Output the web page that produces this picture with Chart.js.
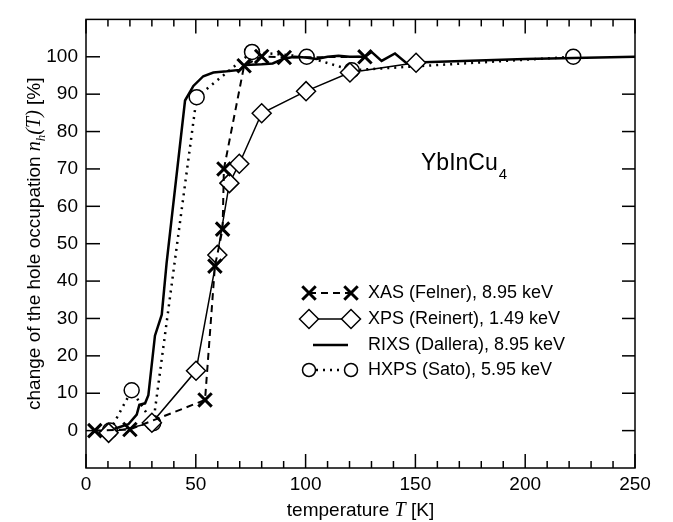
<!DOCTYPE html>
<html>
<head>
<meta charset="utf-8">
<script src="https://cdn.jsdelivr.net/npm/chart.js@4.4.1/dist/chart.umd.min.js"></script>
<style>
html, body { margin: 0; padding: 0; background: #fff; }
canvas { display: block; }
</style>
</head>
<body>
<canvas id="chart" width="673" height="522"></canvas>
<script>
// values
const xasT = [4, 20, 54.2, 58.7, 62.2, 62.8, 72, 80, 90.3, 127];
const xasV = [0, 0.3, 8.2, 44, 53.9, 70, 97.6, 100.1, 99.8, 100];

const xpsT = [10.3, 30, 50.1, 59.8, 65.3, 69.8, 80, 100.2, 120.2, 150.3];
const xpsV = [-0.6, 2.1, 16, 47, 66.2, 71.4, 84.9, 90.8, 95.8, 98.4];

const rixsT = [13, 19.3, 23.1, 24.3, 26.9, 28.4, 31.4, 34.5, 36.7, 45.1, 48.9, 53.4, 58, 64.1, 70.1, 72.4,
  80, 85, 90, 95, 100, 105, 110, 115, 120, 127, 130, 134.6, 140.7, 146, 150, 200, 250];
const rixsV = [0.5, 1.7, 4.3, 6.9, 7.3, 9.5, 25.4, 31, 44.8, 88.3, 92.2, 94.8, 95.8, 96.1, 96.5, 97.8,
  98, 98.2, 99.5, 100, 99.8, 99.4, 100, 100.3, 100, 100, 101.3, 98.9, 100.9, 98.3, 98.5, 99.4, 100];

const hxpsT = [10.9, 20.8, 30.6, 50.4, 75.6, 100.5, 121, 221.9];
const hxpsV = [0, 10.8, 2, 89.2, 101.3, 100, 96.4, 100];

const legendLabels = [
  "XAS (Felner), 8.95 keV",
  "XPS (Reinert), 1.49 keV",
  "RIXS (Dallera), 8.95 keV",
  "HXPS (Sato), 5.95 keV"
];

const SANS = "'Liberation Sans', Arial, sans-serif";
const SERIF = "'Liberation Serif', 'Times New Roman', serif";

const pts = (ts, vs) => ts.map((t, i) => ({x: t, y: vs[i]}));

// draw a sequence of [text, font, dy] pieces starting at x
function drawPieces(ctx, pieces, x, y) {
  pieces.forEach(p => {
    ctx.font = p[1];
    ctx.fillText(p[0], x, y + (p[2] || 0));
    x += ctx.measureText(p[0]).width;
  });
}
function piecesWidth(ctx, pieces) {
  let w = 0;
  pieces.forEach(p => { ctx.font = p[1]; w += ctx.measureText(p[0]).width; });
  return w;
}

function marker(ctx, style, x, y, r) {
  ctx.beginPath();
  if (style === 'crossRot') {
    const d = r * Math.SQRT1_2;
    ctx.moveTo(x - d, y - d); ctx.lineTo(x + d, y + d);
    ctx.moveTo(x + d, y - d); ctx.lineTo(x - d, y + d);
    ctx.stroke();
  } else if (style === 'rectRot') {
    ctx.moveTo(x - r, y); ctx.lineTo(x, y - r); ctx.lineTo(x + r, y); ctx.lineTo(x, y + r);
    ctx.closePath(); ctx.fill(); ctx.stroke();
  } else if (style === 'circle') {
    ctx.arc(x, y, r, 0, Math.PI * 2);
    ctx.fill(); ctx.stroke();
  }
}

const frame = {
  id: 'frame',
  afterDraw(chart) {
    const {ctx, chartArea: a, scales: {x, y}} = chart;
    ctx.save();
    ctx.strokeStyle = '#000';
    ctx.fillStyle = '#000';
    ctx.lineWidth = 1.5;
    ctx.setLineDash([]);
    ctx.strokeRect(a.left, a.top, a.right - a.left, a.bottom - a.top);

    const seg = (x1, y1, x2, y2) => { ctx.beginPath(); ctx.moveTo(x1, y1); ctx.lineTo(x2, y2); ctx.stroke(); };
    for (let t = 0; t <= 250; t += 10) {
      const px = x.getPixelForValue(t);
      const len = t % 50 === 0 ? 14 : 7;
      seg(px, a.bottom, px, a.bottom - len);
      seg(px, a.top, px, a.top + len);
    }
    for (let v = 0; v <= 100; v += 10) {
      const py = y.getPixelForValue(v);
      seg(a.left, py, a.left + 14, py);
      seg(a.right, py, a.right - 13, py);
    }

    // axis titles
    ctx.textBaseline = 'alphabetic';
    ctx.textAlign = 'left';
    const xt = [["temperature ", "19px " + SANS], ["T", "italic 20px " + SERIF], [" [K]", "19px " + SANS]];
    drawPieces(ctx, xt, (a.left + a.right) / 2 - piecesWidth(ctx, xt) / 2, 516);

    const yt = [["change of the hole occupation ", "19px " + SANS], ["n", "italic 20px " + SERIF],
      ["h", "italic 13px " + SERIF, 5], ["(T)", "italic 20px " + SERIF], [" [%]", "19px " + SANS]];
    ctx.save();
    ctx.translate(40, (a.top + a.bottom) / 2);
    ctx.rotate(-Math.PI / 2);
    drawPieces(ctx, yt, -piecesWidth(ctx, yt) / 2, 0);
    ctx.restore();

    // compound label
    drawPieces(ctx, [["YbInCu", "23px " + SANS]], 421, 170);
    ctx.font = "23px " + SANS;
    const w = ctx.measureText("YbInCu").width;
    drawPieces(ctx, [["4", "15px " + SANS]], 421 + w + 1, 179);

    // legend
    const rows = [293, 319, 345, 370];
    chart.data.datasets.forEach((ds, i) => {
      const ry = rows[i];
      ctx.strokeStyle = '#000';
      ctx.lineWidth = ds.borderWidth;
      ctx.setLineDash(ds.borderDash || []);
      ctx.lineCap = ds.borderCapStyle || 'butt';
      const x1 = ds.pointRadius ? 309 : 313, x2 = ds.pointRadius ? 351 : 348;
      seg(x1, ry, x2, ry);
      ctx.setLineDash([]);
      ctx.lineCap = 'butt';
      if (ds.pointRadius) {
        ctx.fillStyle = '#fff';
        ctx.lineWidth = ds.pointBorderWidth;
        const r = ds.pointStyle === 'circle' ? 6.5 : ds.pointRadius;
        marker(ctx, ds.pointStyle, x1, ry, r);
        marker(ctx, ds.pointStyle, x2, ry, r);
      }
      ctx.fillStyle = '#000';
      ctx.font = "18px " + SANS;
      ctx.textBaseline = 'middle';
      ctx.fillText(legendLabels[i], 368, ry);
      ctx.textBaseline = 'alphabetic';
    });
    ctx.restore();
  }
};

new Chart(document.getElementById("chart"), {
  type: "line",
  data: {
    datasets: [
      {
        data: pts(xasT, xasV),
        borderColor: '#000', borderWidth: 2, borderDash: [7, 5],
        pointStyle: 'crossRot', pointRadius: 9.5, pointBorderWidth: 3,
        pointBorderColor: '#000', pointBackgroundColor: '#fff'
      },
      {
        data: pts(xpsT, xpsV),
        borderColor: '#000', borderWidth: 1.5,
        pointStyle: 'rectRot', pointRadius: 9.5, pointBorderWidth: 1.5,
        pointBorderColor: '#000', pointBackgroundColor: '#fff'
      },
      {
        data: pts(rixsT, rixsV),
        borderColor: '#000', borderWidth: 2.5,
        pointRadius: 0
      },
      {
        data: pts(hxpsT, hxpsV),
        borderColor: '#000', borderWidth: 2.5, borderDash: [2, 5], borderCapStyle: 'butt',
        pointStyle: 'circle', pointRadius: 7.5, pointBorderWidth: 1.5,
        pointBorderColor: '#000', pointBackgroundColor: '#fff'
      }
    ]
  },
  options: {
    responsive: false,
    animation: false,
    tension: 0,
    layout: { padding: { top: 4, right: 38, left: 0, bottom: 0 } },
    plugins: { legend: { display: false }, tooltip: { enabled: false } },
    scales: {
      x: {
        type: 'linear', min: 0, max: 250,
        grid: { display: false, drawTicks: false },
        border: { display: false },
        ticks: { stepSize: 50, padding: 5, color: '#000', font: { family: SANS, size: 19 }, maxRotation: 0 },
        afterFit(s) { s.height = 54; }
      },
      y: {
        min: -10, max: 110,
        grid: { display: false, drawTicks: false },
        border: { display: false },
        ticks: {
          stepSize: 10, padding: 8, color: '#000', font: { family: SANS, size: 19 },
          callback: v => (v < 0 || v > 100) ? '' : v
        },
        afterFit(s) { s.width = 86; }
      }
    }
  },
  plugins: [frame]
});
</script>
</body>
</html>
